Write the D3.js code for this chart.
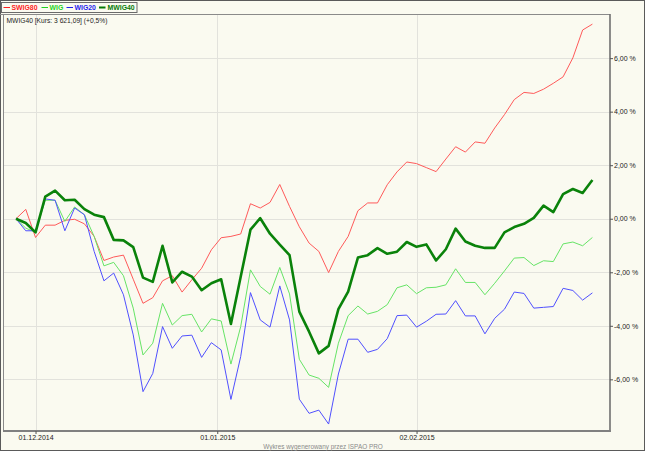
<!DOCTYPE html>
<html>
<head>
<meta charset="utf-8">
<script src="https://cdn.jsdelivr.net/npm/d3@7"></script>
<style>
  html, body { margin: 0; padding: 0; background: #fafaf0; }
  svg { display: block; font-family: "Liberation Sans", Arial, sans-serif; }
</style>
</head>
<body>
<svg id="chart" width="645" height="451"></svg>
<script>
// ---- data (daily % change vs. first session, 27.11.2014 – 26.02.2015) ----
const seriesNames = ["SWIG80", "WIG", "WIG20", "MWIG40"];
const swig80 = [0, 0.35, -0.70, -0.24, -0.24, -0.06, -0.02, -0.19, -0.66, -1.56,
  -1.43, -1.36, -2.26, -3.16, -2.95, -2.32, -2.13, -2.74, -2.28, -1.85,
  -1.16, -0.71, -0.66, -0.57, 0.56, 0.40, 0.61, 1.28, 0.46, -0.30,
  -0.91, -1.22, -2.01, -1.22, -0.66, 0.30, 0.59, 0.59, 1.27, 1.75,
  2.12, 2.06, 1.91, 1.76, 2.23, 2.69, 2.49, 2.87, 2.82, 3.39,
  3.89, 4.45, 4.72, 4.68, 4.84, 5.06, 5.30, 6.01, 7.05, 7.27];
const wig = [0, -0.35, -0.51, 0.69, 0.69, -0.10, 0.44, 0.15, -0.66, -1.76,
  -1.63, -2.13, -3.34, -5.09, -4.65, -3.16, -3.97, -3.62, -3.57, -4.23,
  -3.74, -3.82, -5.43, -4.03, -1.91, -2.53, -2.82, -1.82, -2.81, -5.25,
  -5.84, -5.96, -6.30, -4.65, -3.62, -3.26, -3.56, -3.46, -3.21, -2.58,
  -2.47, -2.80, -2.58, -2.56, -2.47, -1.87, -2.38, -2.38, -2.84, -2.41,
  -1.95, -1.47, -1.45, -1.75, -1.57, -1.60, -0.94, -0.87, -1.01, -0.70];
const wig20 = [0, -0.45, -0.45, 0.74, 0.69, -0.45, 0.40, 0.15, -1.22, -2.32,
  -2.03, -2.84, -4.34, -6.46, -5.78, -4.03, -4.84, -4.38, -4.35, -5.18,
  -4.63, -4.90, -6.75, -5.15, -2.76, -3.78, -4.05, -2.51, -3.78, -6.74,
  -7.27, -7.15, -7.67, -5.80, -4.50, -4.50, -4.99, -4.88, -4.48, -3.62,
  -3.60, -4.05, -3.83, -3.57, -3.56, -3.06, -3.63, -3.63, -4.30, -3.72,
  -3.38, -2.74, -2.79, -3.34, -3.31, -3.28, -2.60, -2.68, -3.04, -2.77];
const mwig40 = [0, -0.16, -0.51, 0.83, 1.05, 0.69, 0.71, 0.36, 0.15, 0.06,
  -0.79, -0.81, -1.06, -2.20, -2.36, -1.01, -2.38, -1.98, -2.16, -2.67,
  -2.41, -2.26, -3.93, -2.17, -0.41, 0.02, -0.56, -0.97, -1.36, -3.47,
  -4.22, -5.03, -4.75, -3.38, -2.72, -1.45, -1.36, -1.10, -1.31, -1.23,
  -0.87, -1.05, -0.96, -1.56, -1.14, -0.37, -0.85, -1.01, -1.09, -1.09,
  -0.51, -0.31, -0.19, 0.03, 0.49, 0.25, 0.92, 1.11, 0.96, 1.45];
const xTickLabels = ["01.12.2014", "01.01.2015", "02.02.2015"];
const xTickSession = [2, 20.6, 41];   // session index where each date falls
const yTickValues = [-6, -4, -2, 0, 2, 4, 6];
const headerText = "MWIG40 [Kurs: 3 621,09] (+0,5%)";
const footerText = "Wykres wygenerowany przez ISPAO PRO";

// ---- styles ----
const colors = { SWIG80: "#ff5a5a", WIG: "#66e466", WIG20: "#5050ff", MWIG40: "#0a820a" };
const legendColors = { SWIG80: "#ff1e1e", WIG: "#1ed21e", WIG20: "#1e1eee", MWIG40: "#077a07" };
const widths = { SWIG80: 1, WIG: 1, WIG20: 1, MWIG40: 2.6 };
const seriesData = { SWIG80: swig80, WIG: wig, WIG20: wig20, MWIG40: mwig40 };

const W = 645, H = 451;
const plot = { left: 4, right: 610, top: 14.5, bottom: 431 };

const svg = d3.select("#chart");

// background + outer frame
svg.append("rect").attr("x", 0.5).attr("y", 0.5).attr("width", W - 1).attr("height", H - 1)
  .attr("fill", "#fafaf0").attr("stroke", "#5a5a5a").attr("stroke-width", 1);

const x = d3.scaleLinear().domain([0, swig80.length - 1]).range([16, 592.4]);
const y = d3.scaleLinear().domain([-7.93, 7.63]).range([plot.bottom, plot.top]);

// gridlines
const grid = svg.append("g");
grid.selectAll("line.h").data(yTickValues).join("line")
  .attr("x1", plot.left).attr("x2", plot.right)
  .attr("y1", d => Math.round(y(d)) + 0.5).attr("y2", d => Math.round(y(d)) + 0.5)
  .attr("stroke", "#e2e2dc").attr("stroke-width", 1);
grid.selectAll("line.v").data(xTickSession).join("line")
  .attr("x1", d => Math.round(x(d)) + 0.5).attr("x2", d => Math.round(x(d)) + 0.5)
  .attr("y1", plot.top).attr("y2", plot.bottom)
  .attr("stroke", "#e2e2dc").attr("stroke-width", 1);

// plot frame
svg.append("line").attr("x1", 0).attr("x2", plot.right).attr("y1", 14.5).attr("y2", 14.5)
  .attr("stroke", "#8a8a8a");
svg.append("line").attr("x1", 3.5).attr("x2", 3.5).attr("y1", 14.5).attr("y2", plot.bottom)
  .attr("stroke", "#8a8a8a");
svg.append("line").attr("x1", plot.right).attr("x2", plot.right).attr("y1", 14).attr("y2", plot.bottom + 1)
  .attr("stroke", "#707070").attr("stroke-width", 1.6);
svg.append("line").attr("x1", 3).attr("x2", plot.right + 0.8).attr("y1", plot.bottom).attr("y2", plot.bottom)
  .attr("stroke", "#808080").attr("stroke-width", 1.8);

// series lines
const line = d3.line().x((d, i) => x(i)).y(d => y(d));
const lines = svg.append("g");
seriesNames.forEach(name => {
  lines.append("path")
    .datum(seriesData[name])
    .attr("d", line)
    .attr("fill", "none")
    .attr("stroke", colors[name])
    .attr("stroke-width", widths[name])
    .attr("stroke-linejoin", "round");
});

// right y axis
const yAxis = d3.axisRight(y).tickValues(yTickValues).tickSize(3).tickPadding(1)
  .tickFormat(d => d.toFixed(2).replace(".", ",") + " %");
const gy = svg.append("g").attr("transform", `translate(${plot.right},0)`).call(yAxis);
gy.select(".domain").remove();
gy.selectAll(".tick line").attr("stroke", "#555");
gy.selectAll(".tick text").attr("font-size", 7).attr("fill", "#222")
  .attr("font-family", "Liberation Sans, Arial, sans-serif");

// bottom x axis
const xAxis = d3.axisBottom(x).tickValues(xTickSession).tickSize(3).tickPadding(1)
  .tickFormat((d, i) => xTickLabels[i]);
const gx = svg.append("g").attr("transform", `translate(0,${plot.bottom})`).call(xAxis);
gx.select(".domain").remove();
gx.selectAll(".tick line").attr("stroke", "#555");
gx.selectAll(".tick text").attr("font-size", 7).attr("fill", "#222")
  .attr("font-family", "Liberation Sans, Arial, sans-serif");

// header inside plot
svg.append("text").attr("x", 6.5).attr("y", 23).attr("font-size", 6.7).attr("fill", "#222")
  .text(headerText);

// footer
svg.append("text").attr("x", 323).attr("y", 449.3).attr("text-anchor", "middle")
  .attr("font-size", 6.4).attr("fill", "#8a8a8a").text(footerText);

// legend
svg.append("rect").attr("x", 1.5).attr("y", 2.5).attr("width", 135.5).attr("height", 10)
  .attr("fill", "#fafaf0").attr("stroke", "#6a6a6a");
const legendLayout = [
  { name: "SWIG80", lx: 3.5, tx: 11.5 },
  { name: "WIG", lx: 41.5, tx: 49.5 },
  { name: "WIG20", lx: 66.5, tx: 74.5 },
  { name: "MWIG40", lx: 99, tx: 107.5 }
];
const lg = svg.append("g");
legendLayout.forEach(l => {
  lg.append("line").attr("x1", l.lx).attr("x2", l.lx + 6.5).attr("y1", 7.5).attr("y2", 7.5)
    .attr("stroke", legendColors[l.name]).attr("stroke-width", l.name === "MWIG40" ? 2 : 1);
  lg.append("text").attr("x", l.tx).attr("y", 10.4).attr("font-size", 6.9)
    .attr("font-weight", "bold").attr("fill", legendColors[l.name])
    .text(l.name);
});
</script>
</body>
</html>
